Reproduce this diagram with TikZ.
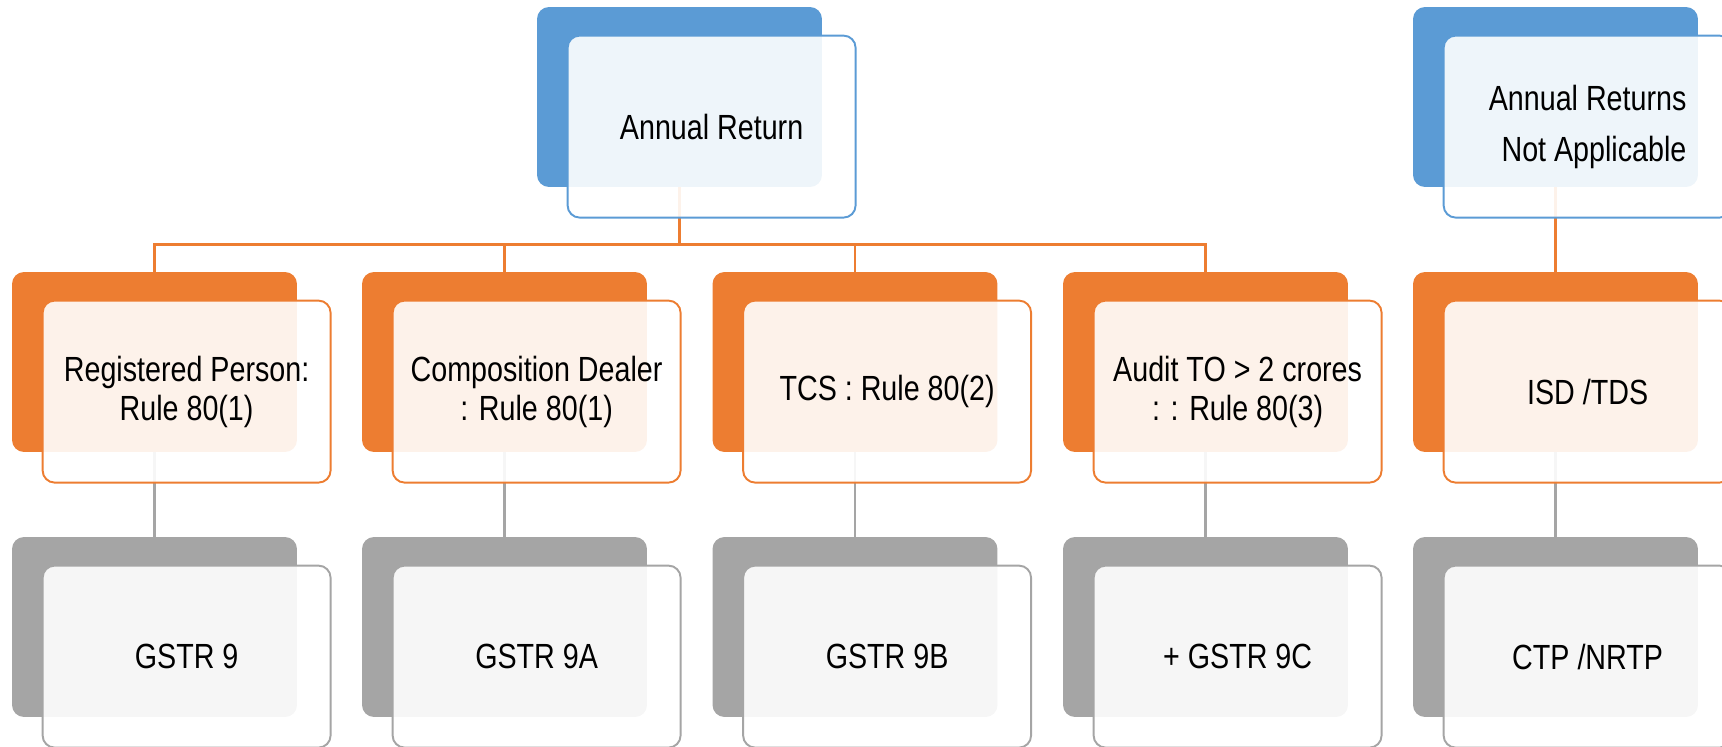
\documentclass[tikz,border=0pt]{standalone}
\usepackage{fontspec}
\setmainfont{Liberation Sans}[FakeStretch=0.82]
\usetikzlibrary{positioning,calc}
\definecolor{accBlue}{RGB}{91,155,213}
\definecolor{accOrange}{RGB}{237,125,49}
\definecolor{accGray}{RGB}{165,165,165}

\begin{document}
\begin{tikzpicture}[x=0.02cm,y=-0.02cm,
    back/.style={rounded corners=0.24cm,fill=#1,minimum width=5.7cm,minimum height=3.6cm,inner sep=0pt},
    front/.style={rounded corners=0.24cm,draw=#1,line width=1.1pt,fill=white,fill opacity=0.9,text opacity=1,
      minimum width=5.76cm,minimum height=3.64cm,inner sep=0pt,align=center,font=\fontsize{19.9}{22.2}\selectfont},
    olink/.style={accOrange,line width=1.4pt},
    glink/.style={accGray,line width=1.4pt}
  ]
  \useasboundingbox (0,0) rectangle (1722,747);
  \clip (0,0) rectangle (1722,747);
  % back boxes
  \node[back=accBlue] (ar-b) at (679.5,97) {};
  \node[back=accBlue] (na-b) at (1555.5,97) {};
  \foreach \i/\x in {1/154.5,2/504.5,3/855,4/1205.5,5/1555.5}{
    \node[back=accOrange] (k\i-b) at (\x,362) {};
    \node[back=accGray] (f\i-b) at (\x,627) {};
  }
  % connectors
  \coordinate (bus) at ($(ar-b.south)+(0,57)$);
  \foreach \i in {1,...,4}
    \draw[olink] (ar-b.south) -- (bus) -| (k\i-b.north);
  \draw[olink] (na-b.south) -- (k5-b.north);
  \foreach \i in {1,...,5}
    \draw[glink] (k\i-b.south) -- (f\i-b.north);
  % front boxes
  \node[front=accBlue,below right=0.56cm and 0.6cm of ar-b.north west] (ar) {Annual Return};
  \node[front=accBlue,align=right,below right=0.56cm and 0.6cm of na-b.north west] (na) {Annual Returns\\[6.8pt]Not Applicable};
  \node[front=accOrange,below right=0.56cm and 0.6cm of k1-b.north west] (k1) {Registered Person:\\Rule 80(1)};
  \node[front=accOrange,below right=0.56cm and 0.6cm of k2-b.north west] (k2) {Composition Dealer\\: Rule 80(1)};
  \node[front=accOrange,below right=0.56cm and 0.6cm of k3-b.north west] (k3) {TCS : Rule 80(2)};
  \node[front=accOrange,below right=0.56cm and 0.6cm of k4-b.north west] (k4) {Audit TO > 2 crores\\: : Rule 80(3)};
  \node[front=accOrange,below right=0.56cm and 0.6cm of k5-b.north west] (k5) {ISD /TDS};
  \node[front=accGray,below right=0.56cm and 0.6cm of f1-b.north west] (f1) {GSTR 9};
  \node[front=accGray,below right=0.56cm and 0.6cm of f2-b.north west] (f2) {GSTR 9A};
  \node[front=accGray,below right=0.56cm and 0.6cm of f3-b.north west] (f3) {GSTR 9B};
  \node[front=accGray,below right=0.56cm and 0.6cm of f4-b.north west] (f4) {+ GSTR 9C};
  \node[front=accGray,below right=0.56cm and 0.6cm of f5-b.north west] (f5) {CTP /NRTP};
\end{tikzpicture}
\end{document}
